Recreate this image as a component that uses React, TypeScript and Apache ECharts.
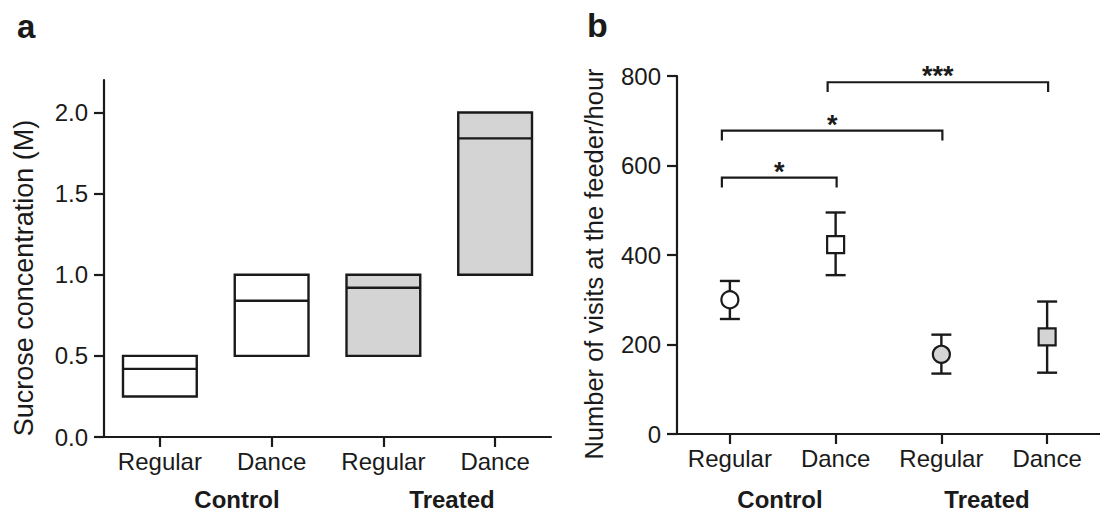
import React, { useEffect, useRef } from "react";
import * as echarts from "echarts";

// ---- Panel a data ----
const categoriesA = ["Regular", "Dance", "Regular", "Dance"];
const boxLow = [0.25, 0.5, 0.5, 1.0];
const boxHigh = [0.5, 1.0, 1.0, 2.0];
const boxMedian = [0.42, 0.84, 0.92, 1.84];
const treatedFlag = [0, 0, 1, 1];
const yTicksA = [0, 0.5, 1.0, 1.5, 2.0];

// ---- Panel b data ----
const categoriesB = ["Regular", "Dance", "Regular", "Dance"];
const visitMean = [300, 423, 178, 217];
const visitUpper = [342, 495, 222, 296];
const visitLower = [257, 355, 135, 137];
const yTicksB = [0, 200, 400, 600, 800];

// significance brackets
const bracketFrom = [0, 0, 1];
const bracketTo = [1, 2, 3];
const bracketTop = [573, 678, 786];
const bracketLeg = [551, 656, 764];
const bracketStars = ["*", "*", "***"];

const INK = "#1a1a1a";
const GREY = "#d4d4d4";
const FONT = "Liberation Sans, Arial, Helvetica, sans-serif";

export default function App() {
  const ref = useRef<HTMLDivElement>(null);

  useEffect(() => {
    if (!ref.current) return;
    const chart = echarts.init(ref.current, undefined, { renderer: "svg" });

    const axisCommon = {
      axisLine: { show: true, lineStyle: { color: INK, width: 2.2 } },
      axisTick: { show: true, length: 10, lineStyle: { color: INK, width: 2.2 } },
      splitLine: { show: false },
    };
    const catLabel = { color: INK, fontSize: 24, margin: 12, fontFamily: FONT, interval: 0, hideOverlap: false };

    const option: any = {
      animation: false,
      backgroundColor: "#ffffff",
      textStyle: { fontFamily: FONT },
      grid: [
        { left: 104, top: 80, width: 447, height: 357 },
        { left: 677, top: 76, width: 433, height: 358 },
      ],
      xAxis: [
        {
          type: "category",
          gridIndex: 0,
          data: categoriesA,
          boundaryGap: true,
          ...axisCommon,
          axisTick: { ...axisCommon.axisTick, alignWithLabel: true, interval: 0 },
          axisLabel: catLabel,
        },
        {
          type: "category",
          gridIndex: 1,
          data: categoriesB,
          boundaryGap: true,
          ...axisCommon,
          axisTick: { ...axisCommon.axisTick, alignWithLabel: true, interval: 0 },
          axisLabel: catLabel,
        },
      ],
      yAxis: [
        {
          type: "value",
          gridIndex: 0,
          min: 0,
          max: 2.2,
          ...axisCommon,
          axisTick: { ...axisCommon.axisTick, customValues: yTicksA },
          axisLabel: {
            color: INK,
            fontSize: 24,
            margin: 16,
            fontFamily: FONT,
            customValues: yTicksA,
            formatter: (v: number) => v.toFixed(1),
          },
        },
        {
          type: "value",
          gridIndex: 1,
          min: 0,
          max: 800,
          interval: 200,
          ...axisCommon,
          axisTick: { ...axisCommon.axisTick, customValues: yTicksB },
          axisLabel: {
            color: INK,
            fontSize: 24,
            margin: 16,
            fontFamily: FONT,
            customValues: yTicksB,
          },
        },
      ],
      series: [
        {
          type: "custom",
          name: "Sucrose",
          xAxisIndex: 0,
          yAxisIndex: 0,
          encode: { x: 0, y: [1, 2, 3] },
          data: categoriesA.map((_, i) => [i, boxLow[i], boxHigh[i], boxMedian[i], treatedFlag[i]]),
          renderItem: (params: any, api: any) => {
            const i = api.value(0);
            const lo = api.coord([i, api.value(1)]);
            const hi = api.coord([i, api.value(2)]);
            const md = api.coord([i, api.value(3)]);
            const w = api.size([1, 0])[0] * 0.66;
            const filled = api.value(4) === 1;
            return {
              type: "group",
              children: [
                {
                  type: "rect",
                  shape: { x: lo[0] - w / 2, y: hi[1], width: w, height: lo[1] - hi[1] },
                  style: { fill: filled ? GREY : "#ffffff", stroke: INK, lineWidth: 2.4 },
                },
                {
                  type: "line",
                  shape: { x1: lo[0] - w / 2, y1: md[1], x2: lo[0] + w / 2, y2: md[1] },
                  style: { stroke: INK, lineWidth: 2.4 },
                },
              ],
            };
          },
        },
        {
          type: "custom",
          name: "Error bars",
          xAxisIndex: 1,
          yAxisIndex: 1,
          encode: { x: 0, y: [1, 2] },
          z: 2,
          data: categoriesB.map((_, i) => [i, visitLower[i], visitUpper[i]]),
          renderItem: (params: any, api: any) => {
            const i = api.value(0);
            const lo = api.coord([i, api.value(1)]);
            const hi = api.coord([i, api.value(2)]);
            const cw = 10;
            const st = { stroke: INK, lineWidth: 2.4 };
            return {
              type: "group",
              children: [
                { type: "line", shape: { x1: lo[0], y1: lo[1], x2: hi[0], y2: hi[1] }, style: st },
                { type: "line", shape: { x1: lo[0] - cw, y1: lo[1], x2: lo[0] + cw, y2: lo[1] }, style: st },
                { type: "line", shape: { x1: hi[0] - cw, y1: hi[1], x2: hi[0] + cw, y2: hi[1] }, style: st },
              ],
            };
          },
        },
        {
          type: "scatter",
          name: "Visits",
          xAxisIndex: 1,
          yAxisIndex: 1,
          z: 3,
          data: categoriesB.map((c, i) => ({
            value: [i, visitMean[i]],
            symbol: c === "Regular" ? "circle" : "rect",
            symbolSize: 17,
            itemStyle: {
              color: treatedFlag[i] ? GREY : "#ffffff",
              borderColor: INK,
              borderWidth: 2.2,
              opacity: 1,
            },
          })),
        },
        {
          type: "custom",
          name: "Brackets",
          xAxisIndex: 1,
          yAxisIndex: 1,
          encode: { x: [0, 1], y: [2, 3] },
          z: 4,
          data: bracketFrom.map((f, k) => [f, bracketTo[k], bracketTop[k], bracketLeg[k]]),
          renderItem: (params: any, api: any) => {
            const k = params.dataIndex;
            const a = api.coord([api.value(0), api.value(2)]);
            const b = api.coord([api.value(1), api.value(2)]);
            const legY = api.coord([api.value(0), api.value(3)])[1];
            const x0 = a[0] - 8;
            const x1 = b[0] + 1;
            const y = a[1];
            return {
              type: "group",
              children: [
                {
                  type: "polyline",
                  shape: { points: [[x0, legY], [x0, y], [x1, y], [x1, legY]] },
                  style: { stroke: INK, lineWidth: 2.2, fill: "none" },
                },
                {
                  type: "text",
                  x: (x0 + x1) / 2,
                  y: y - 6,
                  style: {
                    text: bracketStars[k],
                    fill: INK,
                    fontSize: 27,
                    fontWeight: "bold",
                    fontFamily: FONT,
                    align: "center",
                    verticalAlign: "middle",
                  },
                },
              ],
            };
          },
        },
      ],
      graphic: [
        {
          type: "text",
          left: 17,
          top: 10,
          style: { text: "a", fontSize: 33, fontWeight: "bold", fill: INK, fontFamily: FONT },
        },
        {
          type: "text",
          left: 587,
          top: 8,
          style: { text: "b", fontSize: 34, fontWeight: "bold", fill: INK, fontFamily: FONT },
        },
        {
          type: "text",
          x: 24,
          y: 278,
          rotation: Math.PI / 2,
          style: {
            text: "Sucrose concentration (M)",
            fontSize: 27,
            fill: INK,
            fontFamily: FONT,
            align: "center",
            verticalAlign: "middle",
          },
        },
        {
          type: "text",
          x: 594,
          y: 264,
          rotation: Math.PI / 2,
          style: {
            text: "Number of visits at the feeder/hour",
            fontSize: 25.5,
            fill: INK,
            fontFamily: FONT,
            align: "center",
            verticalAlign: "middle",
          },
        },
        {
          type: "text",
          x: 237,
          y: 499,
          style: { text: "Control", fontSize: 24, fontWeight: "bold", fill: INK, fontFamily: FONT, align: "center", verticalAlign: "middle" },
        },
        {
          type: "text",
          x: 452,
          y: 499,
          style: { text: "Treated", fontSize: 24, fontWeight: "bold", fill: INK, fontFamily: FONT, align: "center", verticalAlign: "middle" },
        },
        {
          type: "text",
          x: 780,
          y: 499,
          style: { text: "Control", fontSize: 24, fontWeight: "bold", fill: INK, fontFamily: FONT, align: "center", verticalAlign: "middle" },
        },
        {
          type: "text",
          x: 987,
          y: 499,
          style: { text: "Treated", fontSize: 24, fontWeight: "bold", fill: INK, fontFamily: FONT, align: "center", verticalAlign: "middle" },
        },
      ],
    };

    chart.setOption(option);
    return () => chart.dispose();
  }, []);

  return (
    <div
      ref={ref}
      style={{ position: "absolute", left: 0, top: 0, width: 1100, height: 514, background: "#fff" }}
    />
  );
}
